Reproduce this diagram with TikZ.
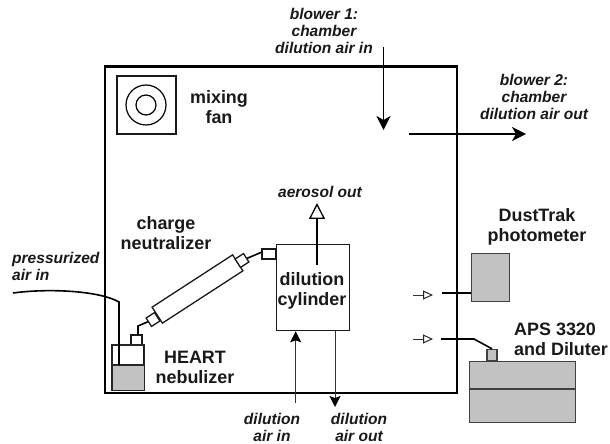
\documentclass[tikz,border=0pt]{standalone}
\usepackage{fontspec}
\setmainfont{Liberation Sans}
\usetikzlibrary{arrows.meta}
\definecolor{fillgray}{gray}{0.76}
\tikzset{
  x=1bp,y=-1bp,
  lab/.style={font=\fontsize{18}{20}\selectfont\bfseries,align=center,inner sep=0pt,text=black!90},
  ital/.style={font=\fontsize{15.6}{17}\selectfont\bfseries\itshape,align=center,inner sep=0pt,text=black!90},
  wall/.style={line width=2.8bp},
  boxline/.style={draw=black!90,line width=1.3bp,inner sep=0pt},
  gbox/.style={draw=black!75,line width=1.2bp,fill=fillgray,inner sep=0pt},
  pipe/.style={line width=1.6bp},
  thinflow/.style={draw=black!80,line width=1bp},
  solidhead/.style={-{Stealth[length=14bp,width=14bp,inset=4bp,color=black]}},
  smallsolid/.style={-{Stealth[length=11bp,width=11bp,inset=2bp,color=black]}},
  openhead/.style={-{Triangle[open,length=16bp,width=16bp,line width=1.3bp,fill=white]}},
  smallopen/.style={-{Triangle[open,length=10bp,width=9bp,line width=1bp,fill=white,color=black!85]}},
}
\begin{document}
\begin{tikzpicture}
\useasboundingbox (0,0) rectangle (610,444);
\fill[white] (0,0) rectangle (610,444);
% chamber
\node[wall,draw,minimum width=352bp,minimum height=326.5bp,inner sep=0pt,outer sep=0pt,anchor=north west] (chamber) at (105,66.5) {};
% fan
\node[boxline,minimum width=59bp,minimum height=58bp] (fan) at (146.5,105) {};
\node[circle,draw,line width=1.2bp,minimum size=40bp,inner sep=0pt] (fanout) at (146,105) {};
\node[circle,draw,line width=1.2bp,minimum size=20bp,inner sep=0pt] (fanin) at (146,105) {};
\node[lab] (fanlab) at (219,107) {mixing\\fan};
% blowers
\node[ital] (bonelab) at (324,31) {blower 1:\\chamber\\dilution air in};
\coordinate (bonea) at (383.5,47);
\coordinate (boneb) at (383.5,130);
\draw[pipe,solidhead] (bonea) -- (boneb);
\node[ital] (btwolab) at (534,97) {blower 2:\\chamber\\dilution air out};
\coordinate (btwoa) at (409,134);
\coordinate (btwob) at (526,134);
\draw[pipe,solidhead] (btwoa) -- (btwob);
% dilution cylinder
\node[boxline,fill=white,minimum width=73bp,minimum height=86bp,anchor=north west] (cyl) at (276,244) {};
\node[lab] (cyllab) at (312,291) {dilution\\cylinder};
% aerosol out
\node[ital] (aero) at (320,192) {aerosol out};
\coordinate (aa) at (317,265);
\coordinate (ab) at (317,203);
\draw[pipe,openhead] (aa) -- (ab);
% dilution in/out
\coordinate (dina) at (295.7,403);
\draw[thinflow,smallsolid] (dina) -- (cyl.south west -| dina);
\node[ital] (dinlab) at (272,427) {dilution\\air in};
\coordinate (douta) at (335,407);
\draw[thinflow,smallsolid] (cyl.south west -| douta) -- (douta);
\node[ital] (doutlab) at (359,427) {dilution\\air out};
% neutralizer
\node[lab] (neutlab) at (166,233) {charge\\neutralizer};
\node[boxline,fill=white,minimum width=96bp,minimum height=19bp,rotate=33,anchor=center] (neut) at (197.5,289) {};
\node[boxline,fill=white,minimum width=10bp,minimum height=10bp,rotate=33] (colup) at (242,260.5) {};
\node[boxline,fill=white,minimum width=10bp,minimum height=10bp,rotate=33] (collow) at (153,319.5) {};
\node[boxline,fill=white,minimum width=14bp,minimum height=10bp] (cylport) at (269,254) {};
\node[boxline,fill=white,minimum width=11bp,minimum height=10bp] (nebport) at (136.5,340) {};
\draw[pipe] (colup) -- (262,252);
\draw[pipe] (collow) -- (138,326) -- (nebport.north -| 138,326);
% nebulizer
\node[boxline,fill=white,minimum width=31bp,minimum height=44bp,anchor=north west] (neb) at (112,345) {};
\fill[fillgray] (neb.west |- 0,365) rectangle (neb.south east);
\draw[line width=1.2bp,draw=black!85] (neb.north west) rectangle (neb.south east);
\draw[line width=1.2bp,draw=black!85] (neb.west |- 0,365) -- (neb.east |- 0,365);
\node[lab] (neblab) at (195,367) {HEART\\nebulizer};
\coordinate (airstart) at (13,293);
\coordinate (airbend) at (119,302);
\draw[pipe] (airstart) .. controls (50,288) and (100,291) .. (airbend) -- (119,365);
\node[ital,align=left,anchor=west] (airlab) at (12,266) {pressurized\\air in};
% DustTrak
\node[lab] (dustlab) at (537,227) {DustTrak\\photometer};
\node[gbox,minimum width=38bp,minimum height=48bp,anchor=north west] (dust) at (471,253) {};
\coordinate (dustpipe) at (442,293);
\draw[pipe] (dustpipe) -- (dust.west |- dustpipe);
\coordinate (dfa) at (413,295);
\coordinate (dfb) at (433,295);
\draw[thinflow,smallopen] (dfa) -- (dfb);
% APS
\node[lab,align=left,anchor=west] (apslab) at (514,339) {APS 3320\\and Diluter};
\node[gbox,minimum width=106bp,minimum height=61bp,anchor=north west] (aps) at (469,361) {};
\draw[line width=1.2bp,draw=black!75] (aps.west |- 0,389) -- (aps.east |- 0,389);
\node[gbox,minimum width=10bp,minimum height=11bp,anchor=south] (apsport) at (492,361) {};
\coordinate (apspipe) at (441,339);
\coordinate (apsbend) at (474,339);
\draw[pipe] (apspipe) -- (apsbend) -- (apsport.north);
\coordinate (afa) at (413,339);
\coordinate (afb) at (433,339);
\draw[thinflow,smallopen] (afa) -- (afb);
\end{tikzpicture}
\end{document}
